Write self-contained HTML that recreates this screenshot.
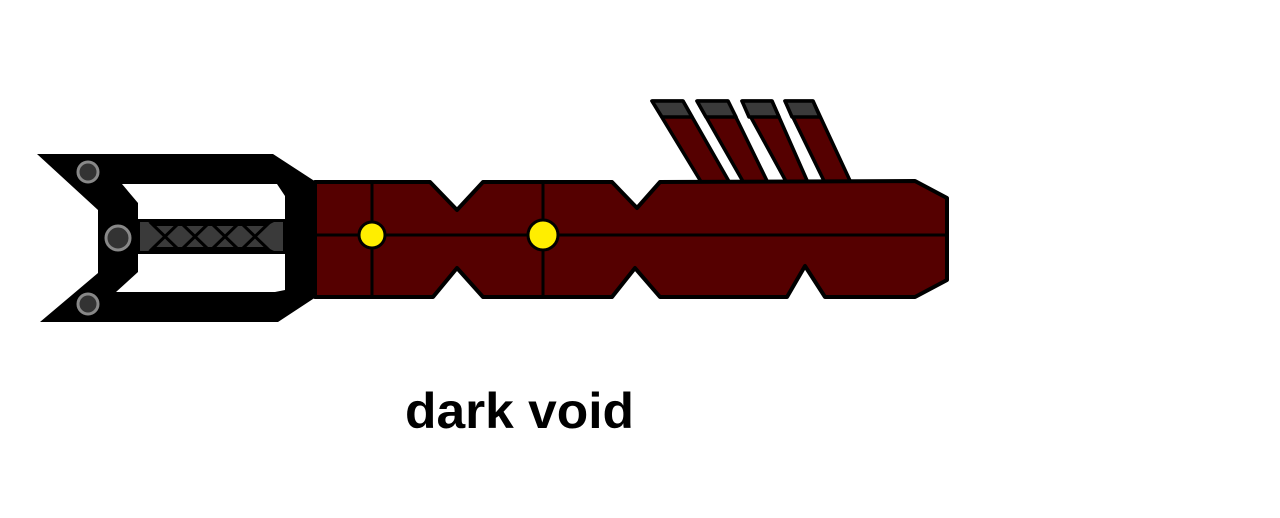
<!DOCTYPE html>
<html><head><style>html,body{margin:0;padding:0;background:#fff;width:1280px;height:518px;overflow:hidden}</style></head>
<body>
<svg width="1280" height="518" viewBox="0 0 1280 518" xmlns="http://www.w3.org/2000/svg">
<!-- fins -->
<g stroke="#000" stroke-width="3.5" stroke-linejoin="round">
<polygon points="652,101 683,101 731,185 703,185" fill="#550000"/>
<polygon points="697,101 728,101 769,185 745,185" fill="#550000"/>
<polygon points="742,101 772,101 809,185 788,185" fill="#550000"/>
<polygon points="785,101 813,101 852,185 826,185" fill="#550000"/>
<polygon points="652,101 683,101 692,117 662,117" fill="#3a3a3a"/>
<polygon points="697,101 728,101 736,117 706,117" fill="#3a3a3a"/>
<polygon points="742,101 772,101 779,117 749,117" fill="#3a3a3a"/>
<polygon points="785,101 813,101 820,117 792,117" fill="#3a3a3a"/>
<!-- body -->
<polygon points="315,182 430,182 457,210 483,182 612,182 637,208 660,182 915,181 947,198 947,280 915,297 825,297 805,266 787,297 660,297 635,268 612,297 483,297 457,268 433,297 315,297" fill="#550000" stroke-width="4"/>
</g>
<line x1="315" y1="235" x2="947" y2="235" stroke="#000" stroke-width="3"/>
<line x1="372" y1="182" x2="372" y2="297" stroke="#000" stroke-width="3"/>
<line x1="543" y1="182" x2="543" y2="297" stroke="#000" stroke-width="3"/>
<circle cx="372" cy="235" r="13" fill="#ffee00" stroke="#000" stroke-width="3"/>
<circle cx="543" cy="235" r="15" fill="#ffee00" stroke="#000" stroke-width="3"/>
<!-- handle -->
<polygon points="37,154 273,154 316,182 316,297 278,322 40,322 98,273 98,210" fill="#000"/>
<polygon points="122,184 277,184 285,196 285,220 138,220 138,203" fill="#fff"/>
<polygon points="138,253 285,253 285,290 275,292 116,292 138,272" fill="#fff"/>
<polygon points="138,219 285,219 285,254 138,254" fill="#000"/>
<polygon points="140,222 148,222 156,226 266,226 274,222 283,222 283,251 274,251 266,247 156,247 148,251 140,251" fill="#3a3a3a"/>
<g stroke="#000" stroke-width="3">
<line x1="150" y1="222" x2="180" y2="251"/><line x1="180" y1="222" x2="150" y2="251"/>
<line x1="180" y1="222" x2="210" y2="251"/><line x1="210" y1="222" x2="180" y2="251"/>
<line x1="210" y1="222" x2="240" y2="251"/><line x1="240" y1="222" x2="210" y2="251"/>
<line x1="240" y1="222" x2="270" y2="251"/><line x1="270" y1="222" x2="240" y2="251"/>
</g>
<g fill="#333" stroke="#888" stroke-width="3">
<circle cx="88" cy="172" r="10"/>
<circle cx="118" cy="238" r="12"/>
<circle cx="88" cy="304" r="10"/>
</g>
<text x="405" y="428" font-family="Liberation Sans, sans-serif" font-weight="bold" font-size="50" textLength="229" lengthAdjust="spacingAndGlyphs" fill="#000">dark void</text>
</svg>
</body></html>
